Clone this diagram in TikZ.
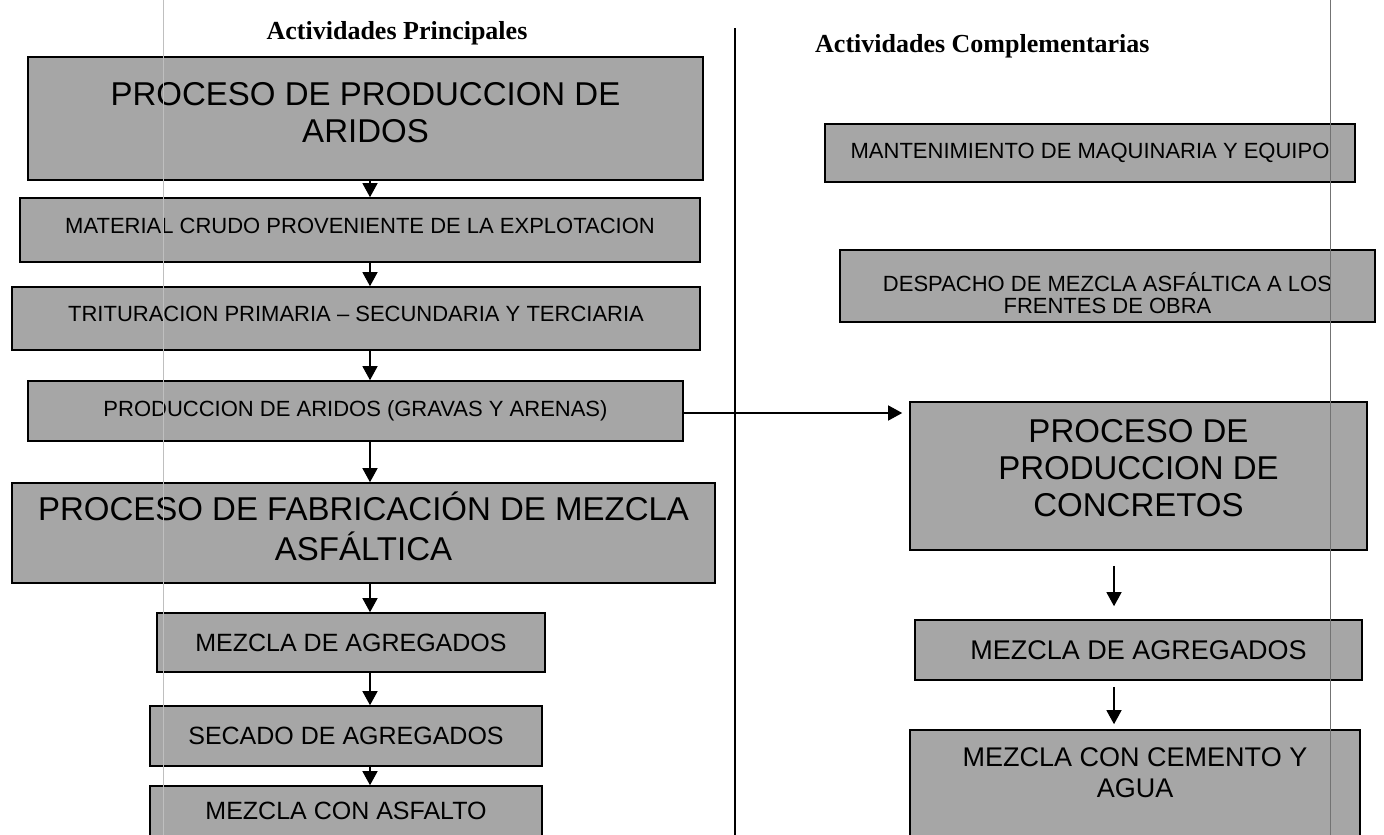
\documentclass[tikz,border=0pt]{standalone}
\usepackage{fontspec}
\setmainfont{Liberation Sans}
\newfontfamily\titlefont{Liberation Serif}
\usetikzlibrary{arrows.meta}
\definecolor{boxgray}{RGB}{166,166,166}
\newcommand\shiftedtext[2]{\raisebox{#1}[\height][\depth]{\begin{tabular}{@{}c@{}}#2\end{tabular}}}
\begin{document}
\begin{tikzpicture}[x=1pt,y=-1pt,
  proc/.style={draw=black,line width=1.6pt,fill=boxgray,inner sep=0pt,align=center,anchor=center},
  big/.style={font=\fontsize{33}{37}\selectfont},
  sml/.style={font=\fontsize{22}{22}\selectfont},
  arr/.style={line width=1.3pt,-{Triangle[width=15pt,length=14pt]}},
  ttl/.style={font=\titlefont\bfseries\fontsize{26}{30}\selectfont,inner sep=0pt},
  faint/.style={line width=1pt}]
\useasboundingbox (0,0) rectangle (1384,835);
\clip (0,0) rectangle (1384,835);
\fill[white] (0,0) rectangle (1384,835);

% titles
\node[ttl] (t1) at (397,33) {Actividades Principales};
\node[ttl,anchor=west] (t2) at (815,46) {Actividades Complementarias};

% left column
\node[proc,big,minimum width=675pt,minimum height=123pt] (b1) at (365.5,118.5) {\shiftedtext{2pt}{PROCESO DE PRODUCCION DE\\ARIDOS}};
\node[proc,sml,minimum width=680pt,minimum height=64pt] (b2) at (360,230) {\shiftedtext{1pt}{MATERIAL CRUDO PROVENIENTE DE LA EXPLOTACION}};
\node[proc,sml,minimum width=688pt,minimum height=63pt] (b3) at (356,318.5) {\shiftedtext{1pt}{TRITURACION PRIMARIA -- SECUNDARIA Y TERCIARIA}};
\node[proc,sml,minimum width=655pt,minimum height=60pt] (b4) at (355.5,411) {PRODUCCION DE ARIDOS (GRAVAS Y ARENAS)};
\node[proc,big,minimum width=703pt,minimum height=100pt] (b5) at (363.5,533) {\shiftedtext{1pt}{PROCESO DE FABRICACIÓN DE MEZCLA\\ASFÁLTICA}};
\node[proc,font=\fontsize{25}{25}\selectfont,minimum width=388pt,minimum height=59pt] (b6) at (351,642.5) {MEZCLA DE AGREGADOS};
\node[proc,font=\fontsize{25}{25}\selectfont,minimum width=392pt,minimum height=60pt] (b7) at (346,736) {SECADO DE AGREGADOS};
\node[proc,font=\fontsize{25}{25}\selectfont,minimum width=392pt,minimum height=50pt] (b8) at (346,811) {MEZCLA CON ASFALTO};

% right column
\node[proc,sml,minimum width=530pt,minimum height=58pt] (m) at (1090,153) {MANTENIMIENTO DE MAQUINARIA Y EQUIPO};
\node[proc,font=\fontsize{22}{21}\selectfont,minimum width=535pt,minimum height=72pt] (d) at (1107.5,286) {\shiftedtext{-10pt}{DESPACHO DE MEZCLA ASFÁLTICA A LOS\\FRENTES DE OBRA}};
\node[proc,big,minimum width=457pt,minimum height=148pt] (c) at (1138.5,476) {\shiftedtext{4pt}{PROCESO DE\\PRODUCCION DE\\CONCRETOS}};
\node[proc,font=\fontsize{27}{27}\selectfont,minimum width=447pt,minimum height=60pt] (rm) at (1138.5,650) {MEZCLA DE AGREGADOS};
\node[proc,font=\fontsize{27}{31}\selectfont,minimum width=450pt,minimum height=110pt] (rc) at (1135,785) {\shiftedtext{9pt}{MEZCLA CON CEMENTO Y\\AGUA}};

% connectors
\coordinate (ax) at (370,0);
\coordinate (rx) at (1114,0);
\draw[arr] (b1.south -| ax) -- (b2.north -| ax);
\draw[arr] (b2.south -| ax) -- (b3.north -| ax);
\draw[arr] (b3.south -| ax) -- (b4.north -| ax);
\draw[arr] (b4.south -| ax) -- (b5.north -| ax);
\draw[arr] (b5.south -| ax) -- (b6.north -| ax);
\draw[arr] (b6.south -| ax) -- (b7.north -| ax);
\draw[arr] (b7.south -| ax) -- (b8.north -| ax);
\draw[arr,shorten >=7pt] ([yshift=-2pt]b4.east) -- ([yshift=-2pt]b4.east -| c.west);
\draw[arr,shorten <=15pt,shorten >=13pt] (c.south -| rx) -- (rm.north -| rx);
\draw[arr,shorten <=6pt,shorten >=5pt] (rm.south -| rx) -- (rc.north -| rx);

% divider and faint scan lines
\draw[line width=1.5pt] (735,28) -- (735,835);
\draw[faint,black!25] (163,0) -- (163,835);
\draw[faint,black!55] (1330,0) -- (1330,835);
\end{tikzpicture}
\end{document}
